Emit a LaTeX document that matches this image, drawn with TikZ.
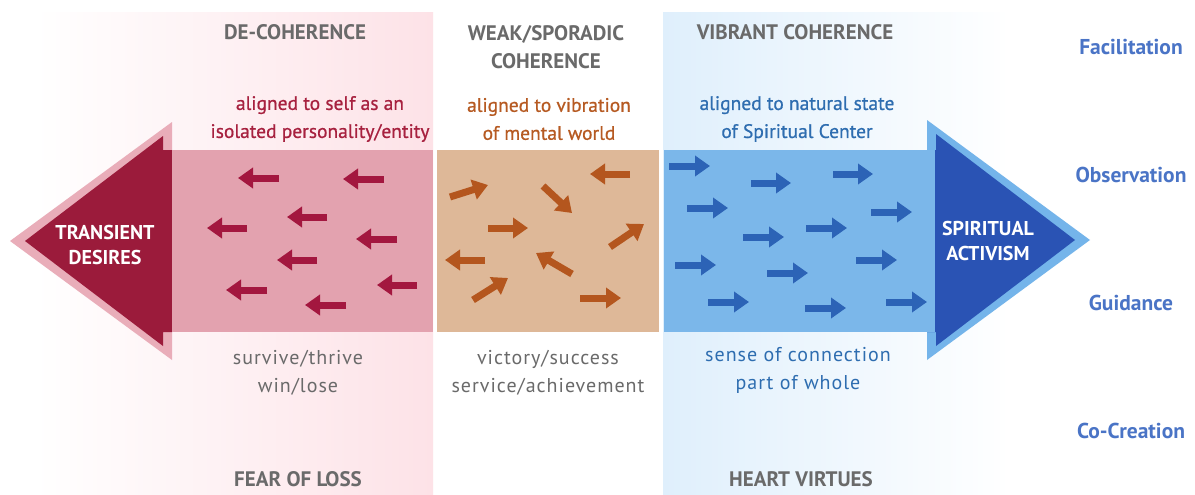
\documentclass[tikz,border=0pt]{standalone}
\usepackage{fontspec}
\setmainfont{PT Sans}
\newfontfamily\spacedfont[LetterSpace=5]{PT Sans}
\newfontfamily\semifont[FakeBold=0.7]{PT Sans}
\usetikzlibrary{arrows.meta}
\definecolor{bandpink}{HTML}{FDE2E7}
\definecolor{bandblue}{HTML}{DFEFFC}
\definecolor{bodypink}{HTML}{E3A2AF}
\definecolor{bordpink}{HTML}{E9ADB9}
\definecolor{darkred}{HTML}{9B1B3B}
\definecolor{arrred}{HTML}{A3173F}
\definecolor{bodytan}{HTML}{DEB898}
\definecolor{arrtan}{HTML}{B4561E}
\definecolor{bodyblue}{HTML}{7BB7EA}
\definecolor{bordblue}{HTML}{74B4EA}
\definecolor{darkblue}{HTML}{2A53B4}
\definecolor{arrblue}{HTML}{2C63B6}
\definecolor{headgray}{HTML}{6A6A6A}
\definecolor{redtext}{HTML}{A7213F}
\definecolor{tantext}{HTML}{B65A22}
\definecolor{bluetext}{HTML}{2E6DB0}
\definecolor{labblue}{HTML}{4A74C6}
\begin{document}
\begin{tikzpicture}[x=1pt,y=-1pt,
  heading/.style={font=\fontsize{21}{28}\selectfont\bfseries, text=headgray, align=center, inner sep=0pt},
  sub/.style={font=\semifont\fontsize{19.5}{28}\selectfont, align=center, inner sep=0pt},
  subb/.style={font=\spacedfont\fontsize{20}{28}\selectfont, align=center, inner sep=0pt},
  endlab/.style={font=\fontsize{20}{25}\selectfont\bfseries, text=white, align=center, inner sep=0pt},
  sidelab/.style={font=\fontsize{21.5}{24}\selectfont\bfseries, text=labblue, inner sep=0pt},
  sarr/.style={line width=7pt, -{Triangle[length=15pt,width=20pt]}}]
\useasboundingbox (0,0) rectangle (1195,495);
\fill[white] (0,0) rectangle (1195,495);
% background bands
\shade[left color=white, right color=bandpink] (35,13) rectangle (433,495);
\shade[left color=bandblue, right color=white] (663,13) rectangle (1010,495);
% big arrow heads
\fill[bordpink] (172,122) -- (10,241) -- (172,360) -- cycle;
\fill[darkred] (163,136) -- (163,150) -- (172,150) -- (172,332) -- (163,332) -- (163,346) -- (25,241) -- cycle;
\fill[bordblue] (927,120) -- (1090,240) -- (927,360) -- cycle;
\fill[darkblue] (936,134) -- (936,150) -- (927,150) -- (927,332) -- (936,332) -- (936,346) -- (1075,240) -- cycle;
% bodies
\fill[bodypink] (172,150) rectangle (433,332);
\fill[bodytan] (437,150) rectangle (659,332);
\fill[bodyblue] (664,150) rectangle (935,332);
% pink arrows (left)
\draw[sarr,arrred] (279,178) -- (238,178);
\draw[sarr,arrred] (384,179) -- (343,179);
\draw[sarr,arrred] (327,217) -- (287,217);
\draw[sarr,arrred] (247,228) -- (207,228);
\draw[sarr,arrred] (397,239) -- (356,239);
\draw[sarr,arrred] (317,260) -- (277,260);
\draw[sarr,arrred] (417,285) -- (377,285);
\draw[sarr,arrred] (267,290) -- (226,290);
\draw[sarr,arrred] (346,305) -- (305,305);
% tan arrows
\draw[sarr,arrtan] (450,197) -- (488,185);
\draw[sarr,arrtan] (543,186) -- (572,213);
\draw[sarr,arrtan] (630,174) -- (590,174);
\draw[sarr,arrtan] (488,228) -- (528,228);
\draw[sarr,arrtan] (610,247) -- (644,224);
\draw[sarr,arrtan] (485,260) -- (445,260);
\draw[sarr,arrtan] (572,274) -- (536,253);
\draw[sarr,arrtan] (473,300) -- (508,278);
\draw[sarr,arrtan] (580,298) -- (621,298);
% blue arrows
\draw[sarr,arrblue] (669,166) -- (710,166);
\draw[sarr,arrblue] (751,183) -- (791,183);
\draw[sarr,arrblue] (833,174) -- (873,174);
\draw[sarr,arrblue] (687,208) -- (728,208);
\draw[sarr,arrblue] (871,212) -- (912,212);
\draw[sarr,arrblue] (743,237) -- (784,237);
\draw[sarr,arrblue] (806,228) -- (847,228);
\draw[sarr,arrblue] (675,265) -- (716,265);
\draw[sarr,arrblue] (856,260) -- (897,260);
\draw[sarr,arrblue] (767,273) -- (808,273);
\draw[sarr,arrblue] (708,302) -- (749,302);
\draw[sarr,arrblue] (805,308) -- (846,308);
\draw[sarr,arrblue] (886,302) -- (927,302);
% headings
\node[heading] (h1) at (295,32) {DE-COHERENCE};
\node[heading] (h2) at (546,47) {WEAK/SPORADIC\\COHERENCE};
\node[heading] (h3) at (795,32) {VIBRANT COHERENCE};
% top sub texts
\node[sub,text=redtext] (t1) at (320,119) {aligned to self as an\\isolated personality/entity};
\node[sub,text=tantext] (t2) at (549,119) {aligned to vibration\\of mental world};
\node[sub,text=bluetext] (t3) at (797,119) {aligned to natural state\\of Spiritual Center};
% bottom sub texts
\node[subb,text=headgray] (b1) at (298,373) {survive/thrive\\win/lose};
\node[subb,text=headgray] (b2) at (548,373) {victory/success\\service/achievement};
\node[subb,text=bluetext] (b3) at (798,370) {sense of connection\\part of whole};
% footers
\node[heading] (f1) at (298,479) {FEAR OF LOSS};
\node[heading] (f3) at (801,479) {HEART VIRTUES};
% arrow end labels
\node[endlab] (td) at (105,245) {TRANSIENT\\DESIRES};
\node[endlab] (sa) at (988,241) {SPIRITUAL\\ACTIVISM};
% side labels
\node[sidelab] (s1) at (1131,47) {Facilitation};
\node[sidelab] (s2) at (1131,175) {Observation};
\node[sidelab] (s3) at (1131,303) {Guidance};
\node[sidelab] (s4) at (1131,431) {Co-Creation};
\end{tikzpicture}
\end{document}
